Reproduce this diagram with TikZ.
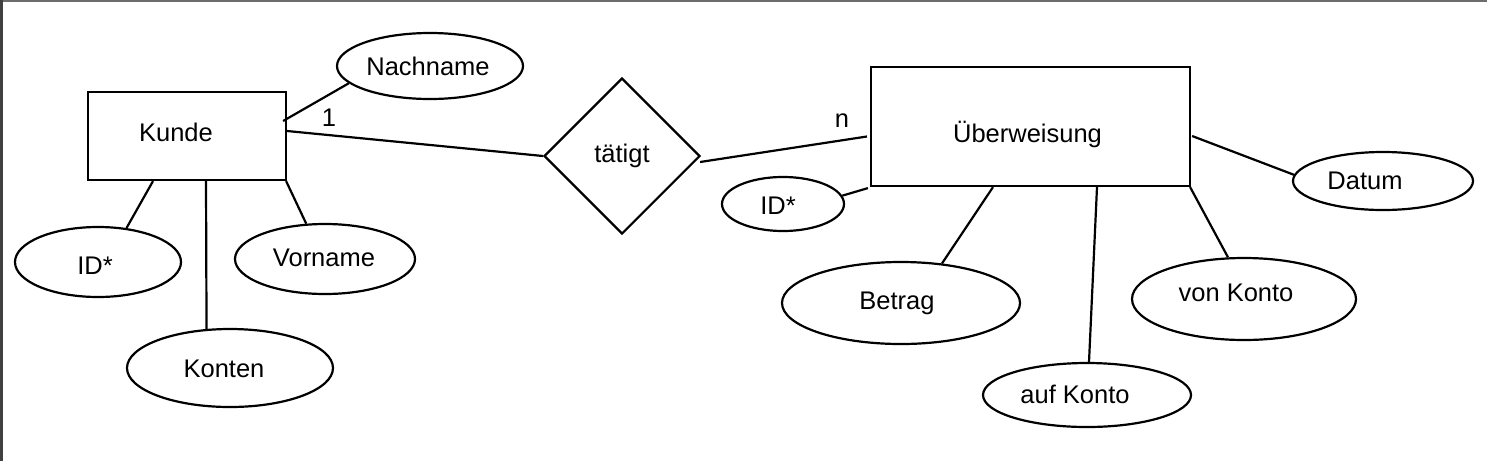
\documentclass[tikz,border=0pt]{standalone}
\usepackage{fontspec}
\setmainfont{Liberation Sans}
\usetikzlibrary{shapes.geometric,calc}
\tikzset{
  every picture/.style={x=1pt,y=-1pt},
  lbl/.style={font=\fontsize{25.5}{30}\selectfont, inner sep=0pt},
  entity/.style={draw, rectangle, line width=2.2pt, inner sep=0pt},
  attr/.style={draw, ellipse, line width=2.2pt, inner sep=0pt},
  rel/.style={draw, diamond, shape aspect=1, line width=2.2pt, inner sep=0pt},
  conn/.style={line width=2.2pt},
}
\begin{document}
\begin{tikzpicture}
\useasboundingbox (0,0) rectangle (1487,461);
\fill[white] (0,0) rectangle (1487,461);
% frame
\coordinate (ftl) at (0,1);
\coordinate (ftr) at (1487,1);
\coordinate (fl) at (1.5,0);
\coordinate (fb) at (1.5,461);
\draw[line width=2pt, gray!85!black] (ftl) -- (ftr);
\draw[line width=3pt, black!75] (fl) -- (fb);

% entities
\node[entity, minimum width=198pt, minimum height=88pt,
      label={[lbl, xshift=-11pt, yshift=4pt, name=kundet]center:Kunde}] (kunde) at (187,136) {};
\node[entity, minimum width=319pt, minimum height=119pt,
      label={[lbl, xshift=-3pt, yshift=-8pt, name=uebert]center:Überweisung}] (ueber) at (1030.5,126.5) {};

% relationship
\node[rel, minimum width=156pt, minimum height=156pt,
      label={[lbl, name=relt]center:tätigt}] (rel) at (622,156) {};

% attributes
\node[attr, minimum width=186pt, minimum height=66pt,
      label={[lbl, xshift=-2pt, name=nacht]center:Nachname}] (nach) at (430,66) {};
\node[attr, minimum width=166pt, minimum height=70pt,
      label={[lbl, xshift=-3pt, yshift=-4pt, name=id1t]center:ID*}] (id1) at (98,262) {};
\node[attr, minimum width=206pt, minimum height=78pt,
      label={[lbl, xshift=-6pt, yshift=-1pt, name=kontent]center:Konten}] (konten) at (230,368) {};
\node[attr, minimum width=180pt, minimum height=70pt,
      label={[lbl, xshift=-1pt, yshift=1pt, name=vort]center:Vorname}] (vor) at (325,259) {};
\node[attr, minimum width=122pt, minimum height=54pt,
      label={[lbl, xshift=-5pt, yshift=-2pt, name=id2t]center:ID*}] (id2) at (783,204) {};
\node[attr, minimum width=238pt, minimum height=82pt,
      label={[lbl, xshift=-4pt, yshift=0pt, name=betragt]center:Betrag}] (betrag) at (901,303) {};
\node[attr, minimum width=208pt, minimum height=64pt,
      label={[lbl, xshift=-12pt, yshift=1pt, name=aufkt]center:auf Konto}] (aufk) at (1087,395) {};
\node[attr, minimum width=224pt, minimum height=82pt,
      label={[lbl, xshift=-8pt, yshift=6pt, name=vonkt]center:von Konto}] (vonk) at (1244,299) {};
\node[attr, minimum width=180pt, minimum height=58pt,
      label={[lbl, xshift=-18pt, yshift=0pt, name=datumt]center:Datum}] (datum) at (1383,181) {};

% cardinalities
\node[lbl] (c1) at (329,118) {1};
\node[lbl] (cn) at (842,121) {n};

% connectors
\draw[conn] ($(kunde.east)+(-4,-15)$) -- (nach.192);
\draw[conn] ($(kunde.east)+(0,-5)$) -- (rel.west);
\draw[conn] ($(rel.east)+(-1,6)$) -- ($(ueber.west)+(-3,10)$);
\draw[conn] ($(kunde.south)+(-34,0)$) -- (id1.50);
\draw[conn] ($(kunde.south)+(19,0)$) -- (konten.121);
\draw[conn] ($(kunde.south east)+(-1,0)$) -- (vor.118);
\draw[conn] (id2.8) -- ($(ueber.south west)+(-2,1)$);
\draw[conn] ($(ueber.south)+(-37.5,0)$) -- (betrag.44);
\draw[conn] ($(ueber.south)+(66.5,0)$) -- ($(aufk.north)+(2,0)$);
\draw[conn] ($(ueber.south east)+(-1,0)$) -- (vonk.111);
\draw[conn] ($(ueber.east)+(1,9.5)$) -- (datum.176);
\end{tikzpicture}
\end{document}
